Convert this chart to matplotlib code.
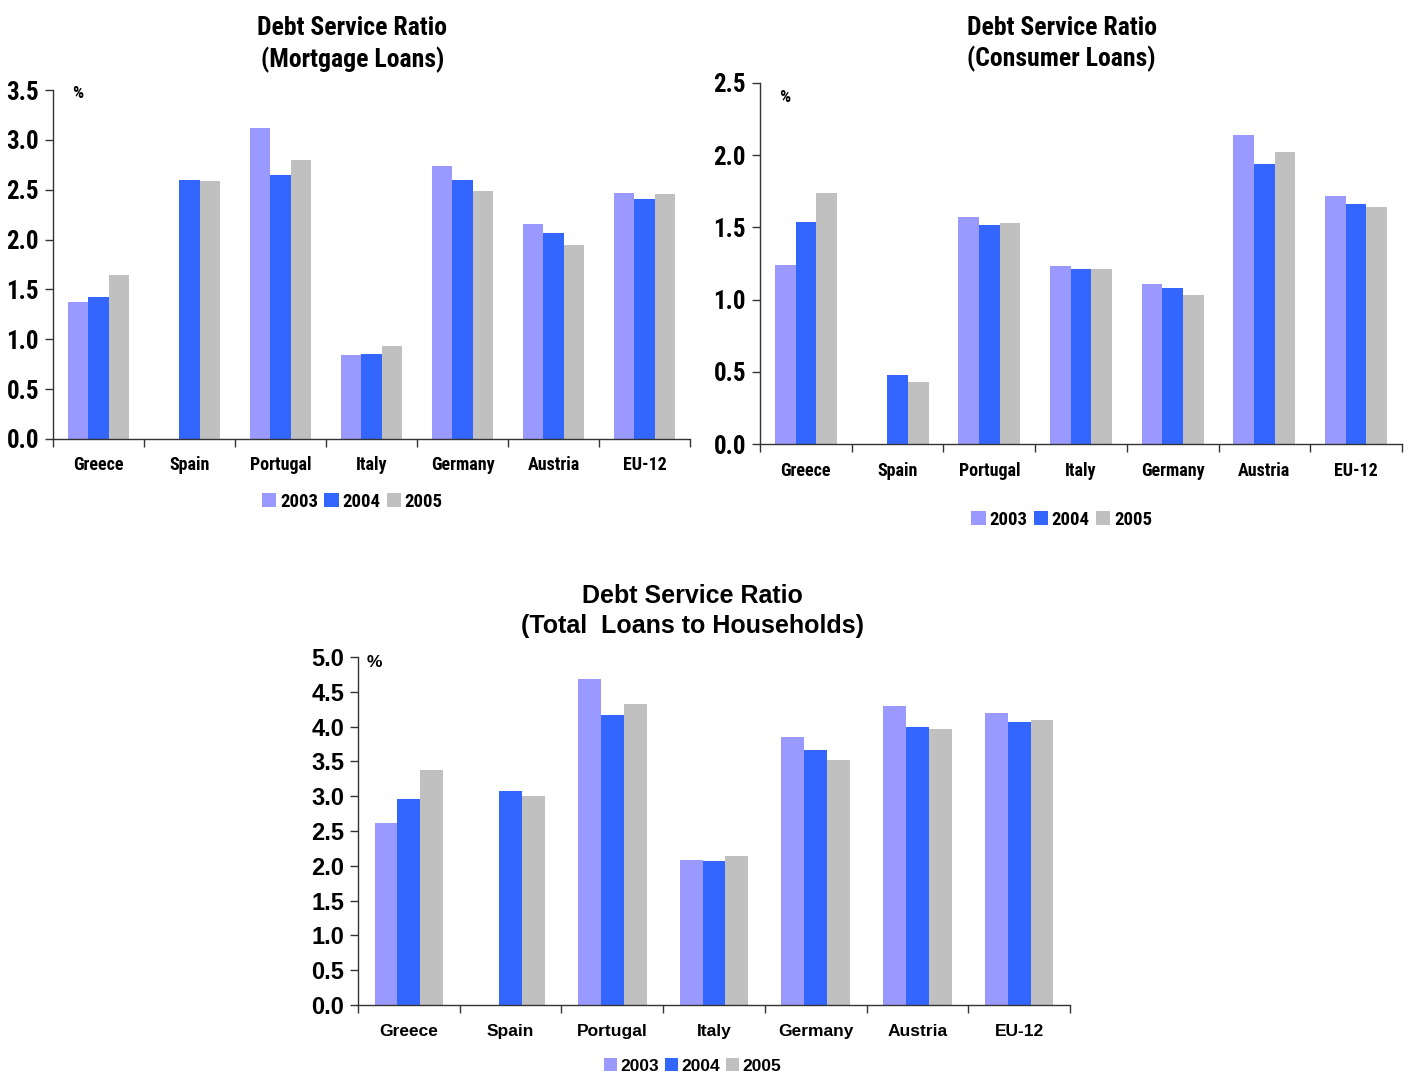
"""Debt service ratios by country, 2003-2005"""

import numpy as np
import matplotlib
matplotlib.use("Agg")
import matplotlib.pyplot as plt
from matplotlib.patches import Patch

countries = ["Greece", "Spain", "Portugal", "Italy", "Germany", "Austria", "EU-12"]
years = ["2003", "2004", "2005"]
colors = ["#9999FF", "#3366FF", "#C0C0C0"]

# mortgage loans (%)
mortgage_2003 = [1.37, np.nan, 3.12, 0.84, 2.74, 2.16, 2.47]
mortgage_2004 = [1.42, 2.60, 2.65, 0.85, 2.60, 2.07, 2.41]
mortgage_2005 = [1.64, 2.59, 2.80, 0.93, 2.49, 1.95, 2.46]

# consumer loans (%)
consumer_2003 = [1.24, np.nan, 1.57, 1.23, 1.11, 2.14, 1.72]
consumer_2004 = [1.54, 0.48, 1.52, 1.21, 1.08, 1.94, 1.66]
consumer_2005 = [1.74, 0.43, 1.53, 1.21, 1.03, 2.02, 1.64]

# total loans to households (%)
total_2003 = [2.61, np.nan, 4.69, 2.08, 3.85, 4.29, 4.19]
total_2004 = [2.96, 3.07, 4.16, 2.07, 3.67, 4.00, 4.07]
total_2005 = [3.37, 3.01, 4.32, 2.14, 3.52, 3.97, 4.10]

NARROW = ["Roboto Condensed", "Liberation Sans Narrow", "DejaVu Sans"]
WIDE = ["Liberation Sans", "DejaVu Sans"]


def draw_panel(ax, series, ymax, title, font, title_size, cat_size, tick_size,
               legend_size, pct_xy, legend_y, title_y):
    n = len(countries)
    x = np.arange(n) + 0.5
    w = 0.225
    for i, (vals, c) in enumerate(zip(series, colors)):
        ax.bar(x + (i - 1) * w, vals, width=w, color=c, edgecolor="none")

    ticks = np.arange(0, ymax + 0.01, 0.5)
    ax.set_xlim(0, n)
    ax.set_ylim(0, ymax)
    ax.set_yticks(ticks)
    ax.set_yticklabels([f"{v:.1f}" for v in ticks], family=font,
                       fontweight="bold", fontsize=tick_size)
    ax.set_xticks(np.arange(n + 1))
    ax.set_xticklabels([])
    ax.tick_params(axis="both", direction="out", length=6, width=1,
                   color="#333333", pad=4)
    for i, name in enumerate(countries):
        ax.text(x[i], -0.075, name, transform=ax.get_xaxis_transform(),
                ha="center", va="center", family=font, fontweight="bold",
                fontsize=cat_size)

    for s in ["top", "right"]:
        ax.spines[s].set_visible(False)
    for s in ["left", "bottom"]:
        ax.spines[s].set_color("#333333")
        ax.spines[s].set_linewidth(1)

    ax.text(pct_xy[0], pct_xy[1], "%", transform=ax.transAxes, ha="left",
            va="center", family=font, fontweight="bold", fontsize=12.5)
    ax.text(0.47, title_y, title, transform=ax.transAxes, ha="center",
            va="bottom", family=font, fontweight="bold",
            fontsize=title_size, linespacing=1.3)

    handles = [Patch(facecolor=c, edgecolor="none") for c in colors]
    ax.legend(handles, years, loc="center", bbox_to_anchor=(0.47, legend_y),
              ncol=3, frameon=False, handlelength=0.75, handleheight=0.75,
              handletextpad=0.2, columnspacing=0.35,
              prop={"family": font, "weight": "bold", "size": legend_size})


fig = plt.figure(figsize=(14.1, 10.75), dpi=100)

ax1 = fig.add_axes([53 / 1410, 1 - 439 / 1075, 637 / 1410, 349 / 1075])
draw_panel(ax1, [mortgage_2003, mortgage_2004, mortgage_2005], 3.5,
           "Debt Service Ratio\n(Mortgage Loans)", NARROW, 18.5, 13, 18, 13.5,
           pct_xy=(0.03, 0.99), legend_y=-0.18, title_y=1.05)

ax2 = fig.add_axes([760 / 1410, 1 - 444 / 1075, 642 / 1410, 361 / 1075])
draw_panel(ax2, [consumer_2003, consumer_2004, consumer_2005], 2.5,
           "Debt Service Ratio\n(Consumer Loans)", NARROW, 18.5, 13, 18, 13.5,
           pct_xy=(0.03, 0.961), legend_y=-0.21, title_y=1.03)

ax3 = fig.add_axes([358 / 1410, 1 - 1005 / 1075, 712 / 1410, 348 / 1075])
draw_panel(ax3, [total_2003, total_2004, total_2005], 5.0,
           "Debt Service Ratio\n(Total  Loans to Households)", WIDE, 18, 12.5,
           17, 12.5, pct_xy=(0.012, 0.983), legend_y=-0.175, title_y=1.055)

fig.savefig("out.png", dpi=100)
